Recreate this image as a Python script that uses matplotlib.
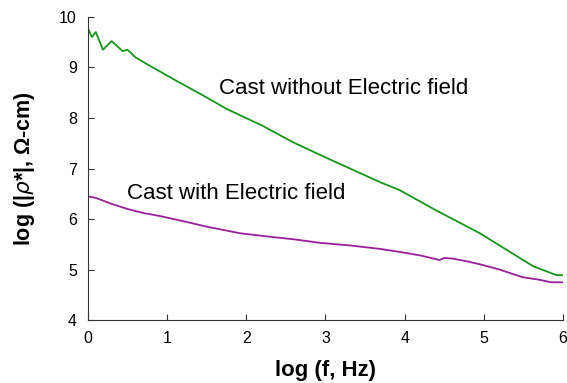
import matplotlib
matplotlib.use("Agg")
import matplotlib.pyplot as plt

plt.rcParams['font.family'] = ['Liberation Sans', 'DejaVu Sans']

# log(f, Hz) / log(|rho*|)
x_without = [0, 0.05, 0.1, 0.19, 0.3, 0.44, 0.5, 0.6, 0.74, 0.91, 1.1, 1.45, 1.75,
             2.2, 2.59, 3.0, 3.69, 3.94, 4.4, 4.95, 5.3, 5.62, 5.85, 5.92, 6.0]
y_without = [9.78, 9.6, 9.7, 9.35, 9.52, 9.32, 9.35, 9.2, 9.07, 8.92, 8.75, 8.45, 8.18,
             7.85, 7.52, 7.22, 6.73, 6.57, 6.17, 5.72, 5.38, 5.07, 4.93, 4.89, 4.89]

x_with = [0, 0.1, 0.3, 0.5, 0.7, 0.91, 1.2, 1.5, 1.92, 2.3, 2.6, 2.93, 3.3, 3.69,
          3.94, 4.2, 4.44, 4.5, 4.6, 4.8, 4.99, 5.2, 5.49, 5.7, 5.85, 6.0]
y_with = [6.45, 6.42, 6.3, 6.2, 6.12, 6.06, 5.96, 5.85, 5.72, 5.65, 5.6, 5.53, 5.48, 5.41,
          5.35, 5.28, 5.19, 5.23, 5.22, 5.16, 5.09, 5.0, 4.85, 4.8, 4.75, 4.75]

fig = plt.figure(figsize=(5.67, 3.83), dpi=100)
ax = fig.add_axes([0.155, 0.164, 0.838, 0.792])

ax.plot(x_without, y_without, color='#14961a', lw=1.3)
ax.plot(x_with, y_with, color='#9a1f9a', lw=1.3)

ax.text(1.65, 8.59, 'Cast without Electric field', fontsize=16, va='center')
ax.text(0.49, 6.51, 'Cast with Electric field', fontsize=16, va='center')

ax.set_xlim(0, 6)
ax.set_ylim(4, 10)
ax.set_xticks(range(0, 7))
ax.set_yticks(range(4, 11))
ax.tick_params(direction='in', length=4, labelsize=11.5, pad=8, color='#333333')
for s in ['left', 'bottom']:
    ax.spines[s].set_color('#333333')
ax.spines['top'].set_visible(False)
ax.spines['right'].set_visible(False)

ax.set_xlabel('log (f, Hz)', fontsize=16, fontweight='bold', labelpad=10)
ax.set_ylabel(r'log (|$\rho$*|, Ω-cm)', fontsize=15.5, fontweight='bold', labelpad=16)

fig.savefig('out.png', dpi=100)
